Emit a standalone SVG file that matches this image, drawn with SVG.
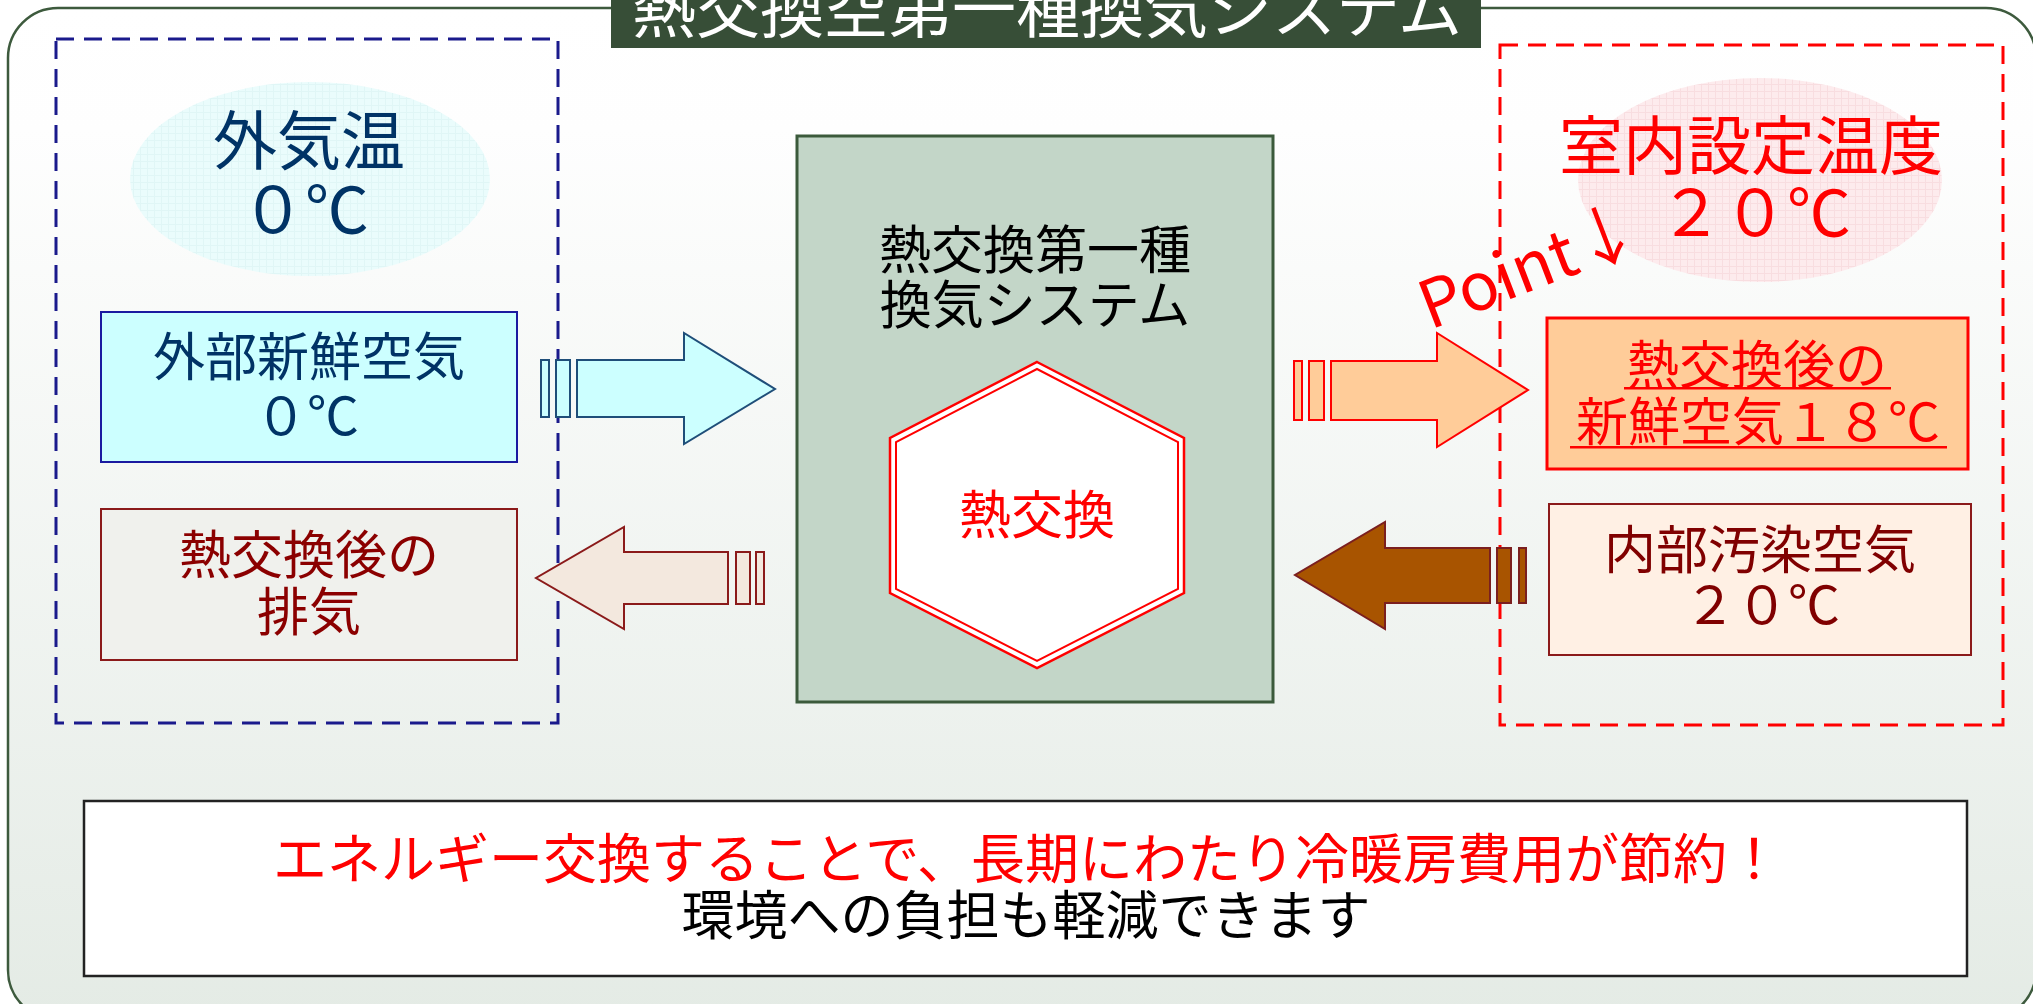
<svg xmlns="http://www.w3.org/2000/svg" width="2033" height="1004" viewBox="0 0 2033 1004">
<defs>
  <linearGradient id="bg" x1="0" y1="0" x2="0" y2="1">
    <stop offset="0" stop-color="#ffffff"/>
    <stop offset="0.12" stop-color="#fefefe"/>
    <stop offset="1" stop-color="#e4ebe5"/>
  </linearGradient>
  <pattern id="gridC" width="7" height="7" patternUnits="userSpaceOnUse">
    <rect width="7" height="7" fill="#eafcfc"/>
    <path d="M0 0.5H7M0.5 0V7" stroke="#e0f6f6" stroke-width="1"/>
  </pattern>
  <pattern id="gridP" width="7" height="7" patternUnits="userSpaceOnUse">
    <rect width="7" height="7" fill="#fdebed"/>
    <path d="M0 0.5H7M0.5 0V7" stroke="#f8dde0" stroke-width="1"/>
  </pattern>
</defs>
<style>
  text { font-family: "Noto Sans CJK JP", "Noto Sans", sans-serif; text-anchor: middle; }
  .t64 { font-size: 64px; }
  .t52 { font-size: 52px; }
  .navy { fill: #003366; }
  .dred { fill: #8b0000; }
  .red { fill: #ff0000; }
  .dashB { fill: none; stroke: #1a1a8c; stroke-width: 3; stroke-dasharray: 18 10; }
  .dashR { fill: none; stroke: #ff0000; stroke-width: 3; stroke-dasharray: 18 10; }
</style>

<!-- frame -->
<rect x="8" y="8" width="2028" height="1012" rx="50" fill="url(#bg)" stroke="#3d5a3d" stroke-width="2.5"/>

<!-- title -->
<g id="title">
  <rect x="611" y="-4" width="870" height="52" fill="#374e37"/>
  <text x="1047" y="32" class="t64" fill="#ffffff">熱交換空第一種換気システム</text>
</g>

<!-- group frames -->
<rect id="outdoor-zone" class="dashB" x="56" y="39" width="502" height="684"/>
<rect id="indoor-zone" class="dashR" x="1500" y="45" width="503" height="680"/>

<g id="outdoor-temp">
  <ellipse cx="310" cy="179" rx="180" ry="97" fill="url(#gridC)"/>
  <text x="309" y="164" class="t64 navy">外気温</text>
  <text x="305" y="233" class="t64 navy">０℃</text>
</g>

<g id="fresh-air-in">
  <rect x="101" y="312" width="416" height="150" fill="#ccffff" stroke="#1a1aa0" stroke-width="2"/>
  <text x="309" y="376" class="t52 navy">外部新鮮空気</text>
  <text x="307" y="435" class="t52 navy">０℃</text>
</g>

<g id="exhaust-out">
  <rect x="101" y="509" width="416" height="151" fill="#f0f1ed" stroke="#8b1a1a" stroke-width="2"/>
  <text x="309" y="574" class="t52 dred">熱交換後の</text>
  <text x="309" y="631" class="t52 dred">排気</text>
</g>

<g id="system">
  <rect x="797" y="136" width="476" height="566" fill="#c3d6c8" stroke="#3b5a3b" stroke-width="3"/>
  <text x="1035" y="269" class="t52" fill="#000000">熱交換第一種</text>
  <text x="1035" y="324" class="t52" fill="#000000">換気システム</text>
</g>

<g id="heat-exchange">
  <polygon points="1037,362 1184,438 1184,593 1037,668 890,593 890,438" fill="#ffffff" stroke="#ff0000" stroke-width="2.5"/>
  <polygon points="1037,369 1178,442 1178,589 1037,661 896,589 896,442" fill="none" stroke="#ff0000" stroke-width="2"/>
  <text x="1037" y="534" class="t52 red">熱交換</text>
</g>

<g id="indoor-temp">
  <ellipse cx="1760" cy="180" rx="182" ry="102" fill="url(#gridP)"/>
  <text x="1751" y="169" class="t64 red">室内設定温度</text>
  <text x="1755" y="236" class="t64 red">２０℃</text>
</g>

<g id="point-note">
  <text x="1430" y="330" font-size="66" class="red" style="text-anchor:start" transform="rotate(-21 1430 330)">Point↓</text>
</g>

<g id="fresh-air-supply">
  <rect x="1547" y="318" width="421" height="151" fill="#ffcc99" stroke="#ff0000" stroke-width="3"/>
  <text x="1757" y="384" class="t52 red">熱交換後の</text>
  <text x="1758" y="441" class="t52 red">新鮮空気１８℃</text>
  <rect x="1624" y="387" width="267" height="2.5" fill="#ff0000"/>
  <rect x="1570" y="446" width="377" height="2.5" fill="#ff0000"/>
</g>

<g id="indoor-dirty-air">
  <rect x="1549" y="504" width="422" height="151" fill="#fff0e4" stroke="#8b1a1a" stroke-width="2"/>
  <text x="1760" y="569" class="t52" fill="#800000">内部汚染空気</text>
  <text x="1762" y="624" class="t52" fill="#800000">２０℃</text>
</g>

<g id="connectors">
  <g id="arrow-fresh-in" fill="#ccffff" stroke="#1f4e79" stroke-width="2">
    <rect x="541" y="360" width="8" height="57"/>
    <rect x="556" y="360" width="14" height="57"/>
    <path d="M577 360 H684 V333 L775 389 L684 444 V417 H577 Z"/>
  </g>
  <g id="arrow-exhaust" fill="#f3e8de" stroke="#8b1a1a" stroke-width="2">
    <rect x="736" y="552" width="14" height="52"/>
    <rect x="756" y="552" width="8" height="52"/>
    <path d="M728 552 H624 V527 L536 578 L624 629 V604 H728 Z"/>
  </g>
  <g id="arrow-supply" fill="#ffcc99" stroke="#ff0000" stroke-width="2">
    <rect x="1294" y="361" width="8" height="59"/>
    <rect x="1309" y="361" width="15" height="59"/>
    <path d="M1331 361 H1437 V333 L1528 390 L1437 447 V420 H1331 Z"/>
  </g>
  <g id="arrow-return" fill="#a85400" stroke="#7b1f1f" stroke-width="2">
    <rect x="1497" y="548" width="14" height="55"/>
    <rect x="1519" y="548" width="7" height="55"/>
    <path d="M1490 548 H1385 V522 L1295 575 L1385 629 V603 H1490 Z"/>
  </g>
</g>

<g id="summary">
  <rect x="84" y="801" width="1883" height="175" fill="#ffffff" stroke="#222222" stroke-width="2.5"/>
  <text x="1027" y="879" font-size="54" class="red">エネルギー交換することで、長期にわたり冷暖房費用が節約！</text>
  <text x="1026" y="935" font-size="53" fill="#000000">環境への負担も軽減できます</text>
</g>
</svg>
